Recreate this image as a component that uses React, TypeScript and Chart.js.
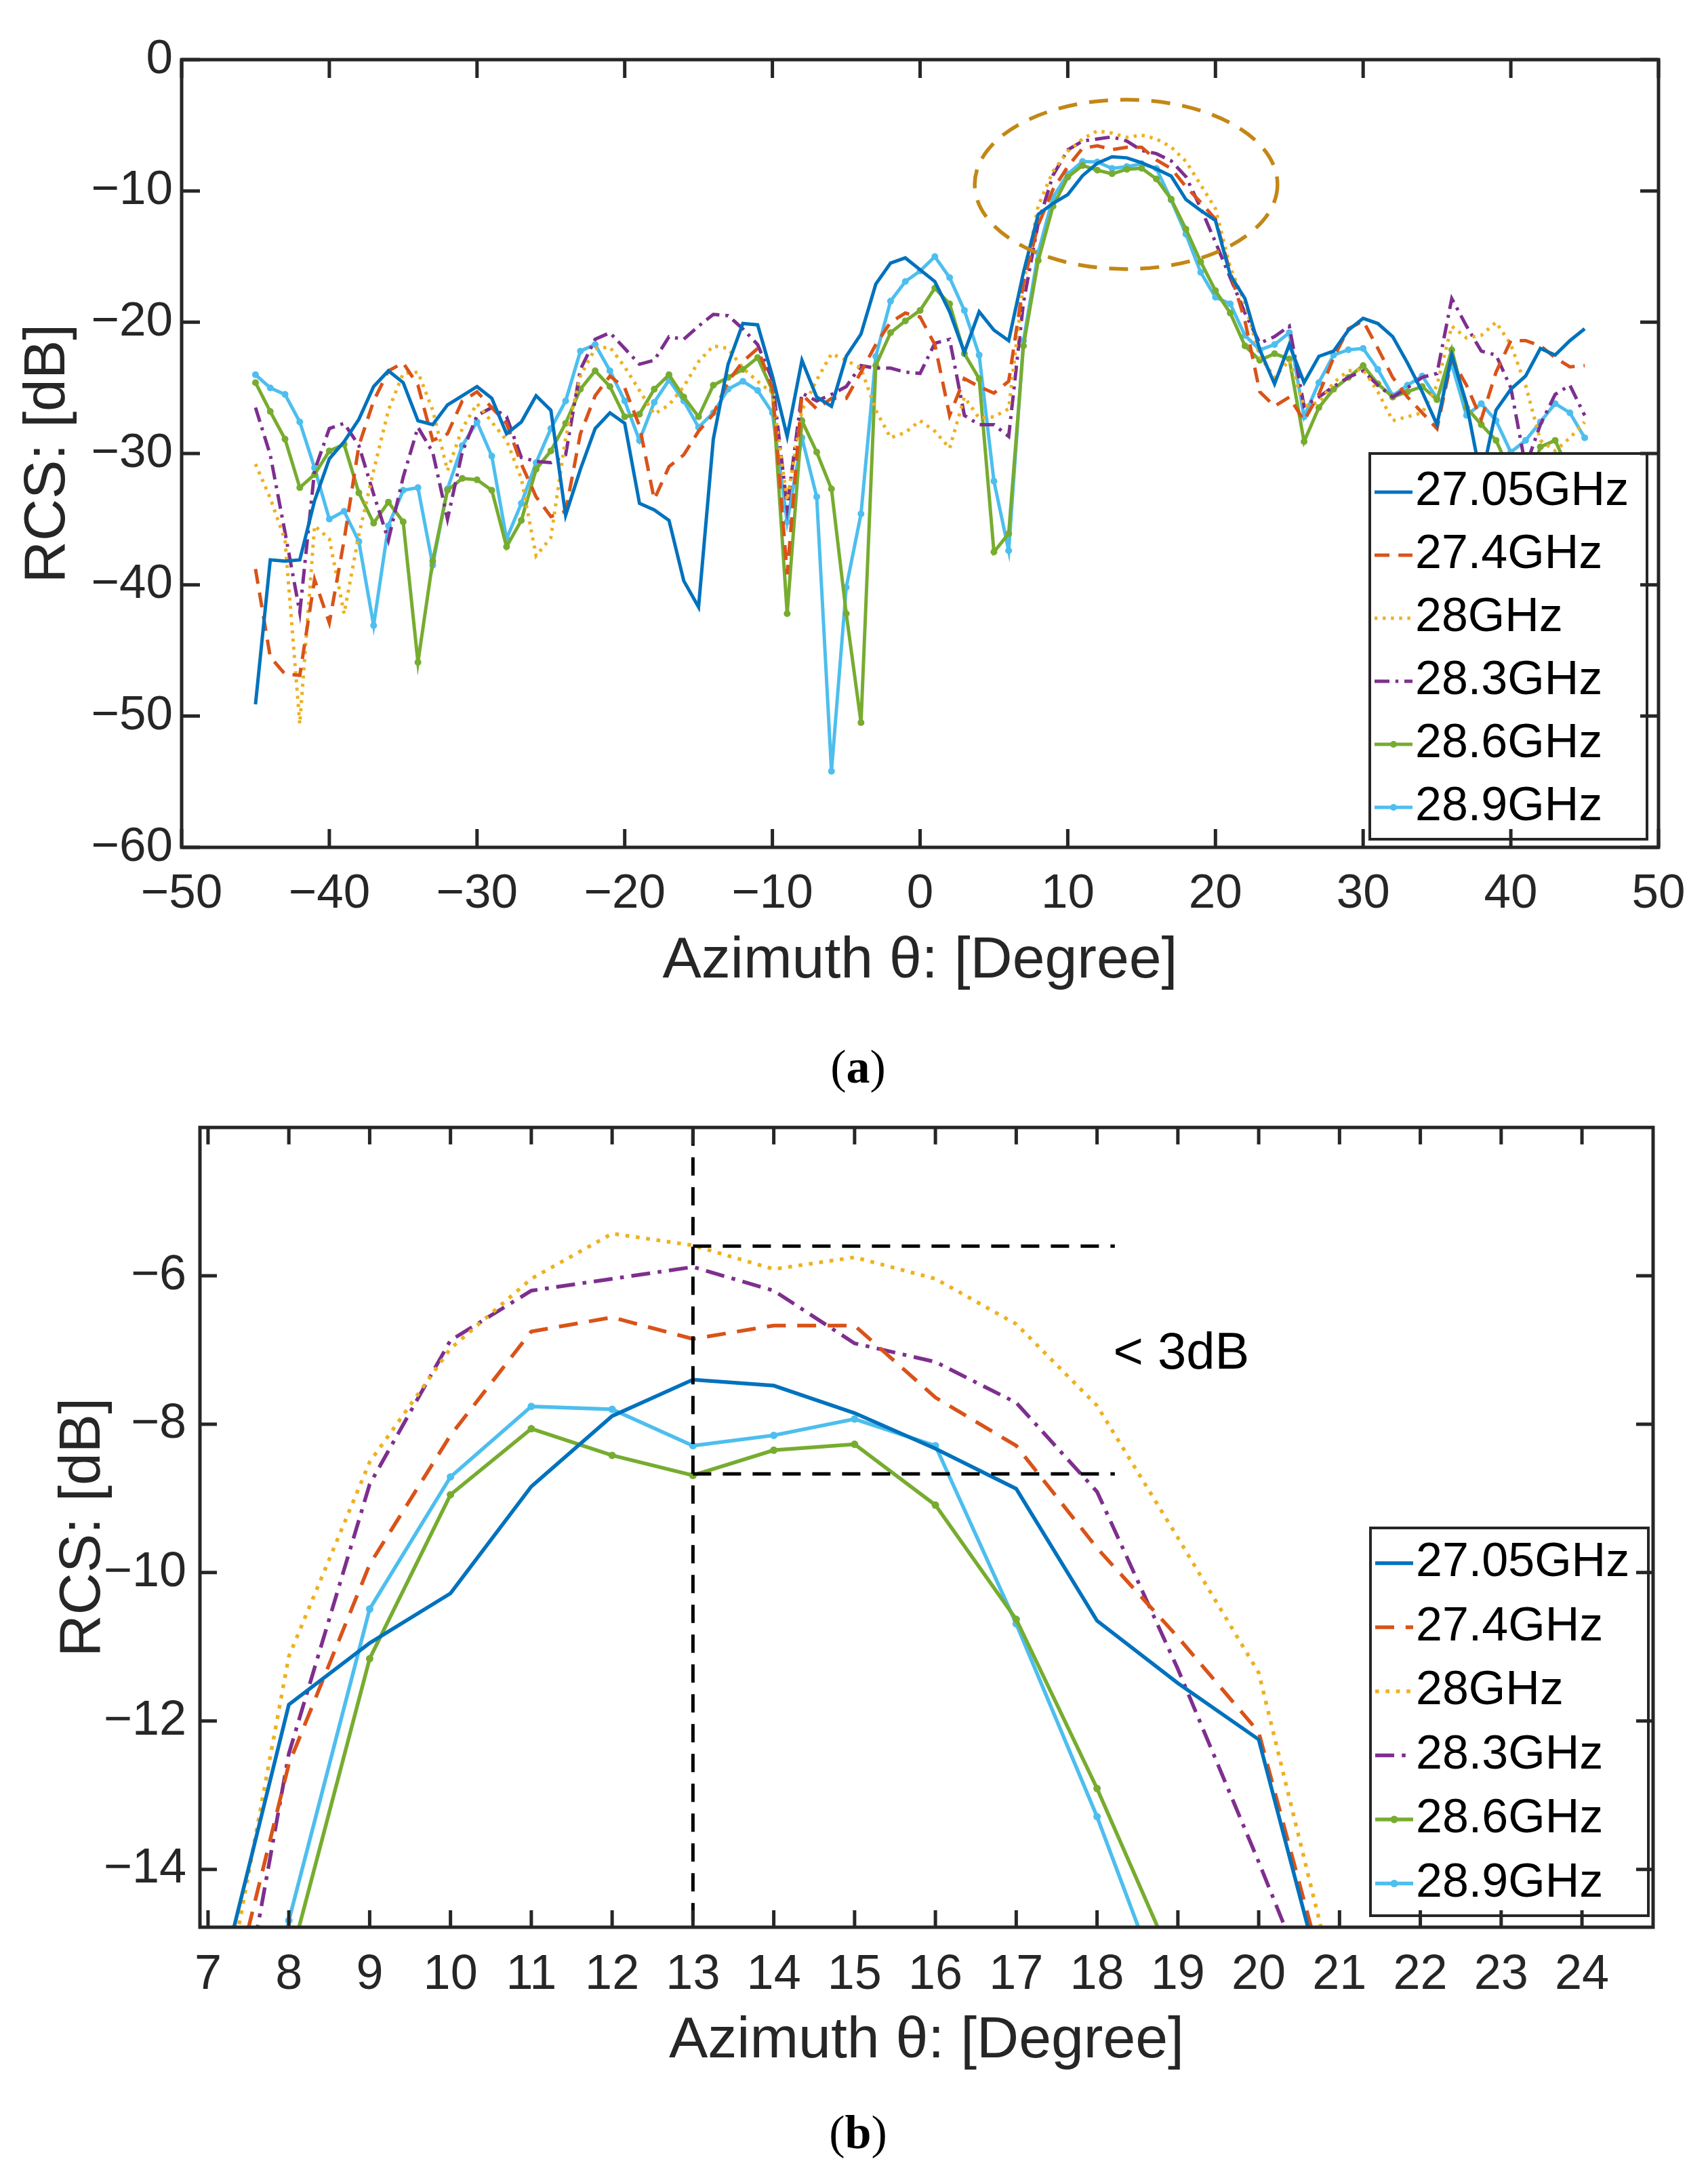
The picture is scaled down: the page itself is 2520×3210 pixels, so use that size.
import React, { useEffect, useRef } from 'react';
import { Chart, registerables } from 'chart.js';

Chart.register(...registerables);

// azimuth samples, 1 degree apart
const ANGLES = [
  -45, -44, -43, -42, -41, -40, -39, -38, -37, -36,
  -35, -34, -33, -32, -31, -30, -29, -28, -27, -26,
  -25, -24, -23, -22, -21, -20, -19, -18, -17, -16,
  -15, -14, -13, -12, -11, -10, -9, -8, -7, -6,
  -5, -4, -3, -2, -1, 0, 1, 2, 3, 4,
  5, 6, 7, 8, 9, 10, 11, 12, 13, 14,
  15, 16, 17, 18, 19, 20, 21, 22, 23, 24,
  25, 26, 27, 28, 29, 30, 31, 32, 33, 34,
  35, 36, 37, 38, 39, 40, 41, 42, 43, 44,
  45,
];

// RCS in dB, one value per angle
const RCS_27_05 = [
  -49.1, -38.1, -38.2, -38.1, -33.6, -30.4, -29.1, -27.4, -24.9, -23.7,
  -24.6, -27.5, -27.8, -26.3, -25.6, -24.9, -25.8, -28.5, -27.6, -25.6,
  -26.7, -34.7, -31.2, -28.1, -26.9, -27.7, -33.8, -34.3, -35.1, -39.7,
  -41.7, -28.9, -23.2, -20.1, -20.2, -24.1, -28.7, -22.9, -25.7, -26.4,
  -22.6, -20.9, -17.1, -15.5, -15.1, -16.0, -16.9, -19.2, -22.3, -19.2,
  -20.6, -21.4, -16.2, -11.78, -10.95, -10.28, -8.84, -7.89, -7.4, -7.48,
  -7.85, -8.33, -8.87, -10.65, -11.49, -12.25, -16.4, -18.2, -22.1, -24.7,
  -21.7, -24.6, -22.6, -22.2, -20.6, -19.7, -20.1, -21.1, -23.1, -25.3,
  -27.8, -22.5, -26.2, -32.0, -26.7, -25.1, -24.1, -22.0, -22.5, -21.4,
  -20.5,
];
const RCS_27_4 = [
  -38.8, -45.5, -46.8, -46.9, -39.6, -42.9, -36.6, -29.4, -26.0, -23.7,
  -23.1, -24.8, -29.0, -28.5, -26.0, -25.3, -26.5, -27.7, -30.8, -33.3,
  -34.8, -34.4, -28.5, -25.6, -24.1, -25.0, -27.9, -33.5, -31.0, -30.1,
  -28.3, -27.0, -24.5, -23.0, -22.0, -25.0, -39.2, -25.5, -26.6, -25.8,
  -25.8, -23.8, -21.7, -20.0, -19.3, -19.6, -21.7, -27.1, -24.3, -24.9,
  -25.4, -24.5, -17.0, -12.58, -9.89, -8.15, -6.75, -6.56, -6.85, -6.67,
  -6.67, -7.64, -8.29, -9.67, -10.87, -12.15, -16.2, -19.9, -25.3, -26.4,
  -25.7, -27.5, -25.5, -22.7, -20.5, -19.9, -22.0, -24.2, -25.7, -26.9,
  -28.1, -22.8, -24.8, -27.4, -23.8, -21.4, -21.4, -21.8, -22.7, -23.4,
  -23.3,
];
const RCS_28 = [
  -30.8, -33.4, -36.6, -50.6, -35.5, -36.5, -42.2, -36.2, -31.3, -26.7,
  -23.9, -23.8, -26.7, -31.3, -28.1, -26.2, -27.6, -29.0, -31.9, -37.8,
  -36.4, -28.8, -24.1, -22.0, -21.9, -23.4, -25.2, -27.0, -26.3, -24.9,
  -23.0, -21.8, -22.0, -23.5, -24.5, -25.4, -33.6, -26.7, -24.4, -22.4,
  -22.9, -23.5, -26.7, -28.8, -28.4, -27.5, -28.3, -29.6, -25.7, -27.3,
  -27.2, -26.6, -17.0, -11.13, -8.51, -6.98, -6.04, -5.43, -5.59, -5.91,
  -5.75, -6.04, -6.65, -7.75, -9.53, -11.35, -15.8, -18.6, -22.6, -24.2,
  -22.9, -26.4, -26.1, -24.6, -23.7, -23.6, -25.3, -27.5, -27.2, -26.9,
  -24.8, -20.3, -21.2, -21.0, -20.0, -21.7, -24.8, -29.0, -29.8, -28.8,
  -27.6,
];
const RCS_28_3 = [
  -26.5, -30.1, -36.0, -42.1, -31.3, -28.1, -27.7, -29.4, -33.1, -36.6,
  -31.8, -28.0, -29.9, -35.0, -29.9, -27.1, -26.5, -27.2, -30.3, -30.6,
  -30.7, -30.1, -23.6, -21.3, -20.8, -22.0, -23.2, -22.9, -21.1, -21.3,
  -20.3, -19.4, -19.5, -20.5, -21.7, -24.4, -34.1, -25.4, -26.0, -25.5,
  -24.9, -23.3, -23.5, -23.5, -23.8, -23.9, -21.6, -21.3, -27.1, -27.8,
  -27.8, -28.7, -18.5, -12.44, -8.81, -6.87, -6.2, -6.04, -5.88, -6.2,
  -6.91, -7.16, -7.71, -8.91, -11.3, -13.9, -16.6, -19.3, -21.6, -21.1,
  -20.3, -26.4, -25.7, -24.9, -24.2, -23.7, -24.8, -25.7, -25.0, -24.2,
  -23.9, -18.2, -20.3, -22.2, -22.5, -25.0, -31.0, -27.8, -25.5, -24.8,
  -27.1,
];
const RCS_28_6 = [
  -24.6, -26.8, -28.9, -32.6, -31.6, -29.8, -29.3, -33.0, -35.3, -33.7,
  -35.2, -45.9, -38.2, -32.8, -31.9, -32.0, -32.8, -37.1, -35.1, -31.2,
  -29.8, -27.7, -25.1, -23.7, -24.9, -27.2, -27.0, -25.1, -24.0, -25.7,
  -27.2, -24.8, -24.2, -23.6, -22.7, -25.2, -42.2, -27.5, -29.9, -32.7,
  -42.2, -50.5, -23.3, -20.8, -19.9, -19.1, -17.4, -18.6, -22.4, -24.3,
  -37.5, -36.1, -21.8, -15.3, -11.16, -8.95, -8.06, -8.42, -8.69, -8.35,
  -8.27, -9.09, -10.63, -12.91, -15.4, -17.6, -19.3, -21.8, -22.9, -22.4,
  -22.8, -29.1, -26.5, -25.1, -24.2, -23.3, -24.7, -25.7, -25.3, -24.9,
  -25.9, -22.1, -26.5, -27.8, -29.0, -31.5, -33.0, -29.5, -29.0, -31.5,
  -34.0,
];
const RCS_28_9 = [
  -24.0, -25.0, -25.5, -27.6, -31.1, -35.0, -34.4, -36.7, -43.1, -35.5,
  -32.8, -32.6, -38.5, -32.7, -29.4, -27.6, -30.2, -36.5, -33.8, -30.7,
  -28.1, -26.0, -22.2, -21.7, -23.7, -26.0, -29.0, -26.1, -24.4, -26.0,
  -28.0, -26.9, -25.1, -24.5, -25.2, -26.9, -35.2, -28.8, -33.3, -54.2,
  -40.2, -34.6, -22.6, -18.4, -16.9, -16.1, -15.0, -16.6, -19.1, -22.5,
  -32.1, -37.4, -21.4, -14.69, -10.49, -8.71, -7.76, -7.8, -8.29, -8.15,
  -7.93, -8.29, -10.69, -13.29, -16.2, -18.1, -18.6, -21.0, -22.1, -21.7,
  -20.8, -27.2, -24.6, -22.5, -22.1, -22.0, -23.6, -25.6, -24.8, -24.1,
  -25.8, -23.2, -27.1, -26.2, -27.5, -29.9, -29.0, -27.6, -26.2, -26.9,
  -28.8,
];

const SERIES = [RCS_27_05, RCS_27_4, RCS_28, RCS_28_3, RCS_28_6, RCS_28_9];
const SERIES_LABELS = ['27.05GHz', '27.4GHz', '28GHz', '28.3GHz', '28.6GHz', '28.9GHz'];

const TOP_X_TICKS = [-50, -40, -30, -20, -10, 0, 10, 20, 30, 40, 50];
const TOP_Y_TICKS = [-60, -50, -40, -30, -20, -10, 0];
const ZOOM_X_TICKS = [7, 8, 9, 10, 11, 12, 13, 14, 15, 16, 17, 18, 19, 20, 21, 22, 23, 24];
const ZOOM_Y_TICKS = [-14, -12, -10, -8, -6];

// line styles (matlab default order)
const COLORS = ['#0072BD', '#D95319', '#EDB120', '#7E2F8E', '#77AC30', '#4DBEEE'];
const DASHES: number[][] = [[], [20, 12], [4, 7], [20, 8, 4, 8], [], []];
const MARKED = [false, false, false, false, true, true];

const INK = '#262626';
const SANS = '"Liberation Sans", Arial, Helvetica, sans-serif';

const minus = (v: number | string) => String(v).replace('-', '\u2212');

// box around the axes with inward ticks on all four sides
const frameTicks = {
  id: 'frameTicks',
  afterDraw(chart: any, _args: any, o: any) {
    const { ctx, chartArea: a, scales } = chart;
    ctx.save();
    ctx.strokeStyle = INK;
    ctx.lineWidth = o.lineWidth;
    ctx.setLineDash([]);
    ctx.beginPath();
    scales.x.ticks.forEach((t: any) => {
      const px = scales.x.getPixelForValue(t.value);
      ctx.moveTo(px, a.bottom);
      ctx.lineTo(px, a.bottom - o.tickLength);
      ctx.moveTo(px, a.top);
      ctx.lineTo(px, a.top + o.tickLength);
    });
    scales.y.ticks.forEach((t: any) => {
      const py = scales.y.getPixelForValue(t.value);
      ctx.moveTo(a.left, py);
      ctx.lineTo(a.left + o.tickLength, py);
      ctx.moveTo(a.right, py);
      ctx.lineTo(a.right - o.tickLength, py);
    });
    ctx.stroke();
    ctx.strokeRect(a.left, a.top, a.right - a.left, a.bottom - a.top);
    ctx.restore();
  },
};

// legend box in the lower right corner of the axes
const boxLegend = {
  id: 'boxLegend',
  afterDraw(chart: any, _args: any, o: any) {
    const { ctx, chartArea: a } = chart;
    const right = a.right - o.insetRight;
    const bottom = a.bottom - o.insetBottom;
    const left = right - o.width;
    const top = bottom - o.height;
    ctx.save();
    ctx.fillStyle = '#ffffff';
    ctx.fillRect(left, top, o.width, o.height);
    ctx.strokeStyle = INK;
    ctx.lineWidth = 4;
    ctx.setLineDash([]);
    ctx.strokeRect(left, top, o.width, o.height);
    chart.data.datasets.forEach((ds: any, i: number) => {
      const y = top + o.firstRow + i * o.rowHeight;
      ctx.strokeStyle = ds.borderColor;
      ctx.lineWidth = ds.borderWidth;
      ctx.setLineDash(ds.borderDash || []);
      ctx.beginPath();
      ctx.moveTo(left + 7, y);
      ctx.lineTo(left + 63, y);
      ctx.stroke();
      ctx.setLineDash([]);
      if (ds.pointRadius > 0) {
        ctx.fillStyle = ds.borderColor;
        ctx.beginPath();
        ctx.arc(left + 35, y, ds.pointRadius, 0, Math.PI * 2);
        ctx.fill();
      }
      ctx.fillStyle = '#000000';
      ctx.font = `${o.fontSize}px ${SANS}`;
      ctx.textBaseline = 'middle';
      ctx.textAlign = 'left';
      ctx.fillText(ds.label, left + 67, y);
    });
    ctx.restore();
  },
};

// dashed ellipse around the main lobe
const lobeEllipse = {
  id: 'lobeEllipse',
  afterDatasetsDraw(chart: any, _args: any, o: any) {
    const { ctx, scales: { x, y } } = chart;
    const cx = x.getPixelForValue(o.center[0]);
    const cy = y.getPixelForValue(o.center[1]);
    const rx = Math.abs(x.getPixelForValue(o.center[0] + o.radius[0]) - cx);
    const ry = Math.abs(y.getPixelForValue(o.center[1] + o.radius[1]) - cy);
    ctx.save();
    ctx.strokeStyle = o.color;
    ctx.lineWidth = 5.5;
    ctx.setLineDash([28, 18]);
    ctx.beginPath();
    ctx.ellipse(cx, cy, rx, ry, 0, 0, Math.PI * 2);
    ctx.stroke();
    ctx.restore();
  },
};

// 3 dB guide lines in the zoomed panel
const guides = {
  id: 'guides',
  afterDatasetsDraw(chart: any, _args: any, o: any) {
    const { ctx, chartArea: a, scales: { x, y } } = chart;
    const vx = x.getPixelForValue(o.vertical);
    const ex = x.getPixelForValue(o.levelEnd);
    ctx.save();
    ctx.strokeStyle = '#000000';
    ctx.lineWidth = 5;
    ctx.setLineDash([27, 17]);
    ctx.beginPath();
    ctx.moveTo(vx, a.top);
    ctx.lineTo(vx, a.bottom);
    o.levels.forEach((lv: number) => {
      const py = y.getPixelForValue(lv);
      ctx.moveTo(vx, py);
      ctx.lineTo(ex, py);
    });
    ctx.stroke();
    ctx.setLineDash([]);
    ctx.fillStyle = '#000000';
    ctx.font = `76px ${SANS}`;
    ctx.textBaseline = 'middle';
    ctx.textAlign = 'left';
    ctx.fillText(o.text, x.getPixelForValue(o.textAt[0]), y.getPixelForValue(o.textAt[1]));
    ctx.restore();
  },
};

interface PanelSpec {
  height: number;
  area: { left: number; top: number; right: number; bottom: number };
  axisBottom: number;
  xRange: [number, number];
  yRange: [number, number];
  xTicks: number[];
  yTicks: number[];
  tickFont: number;
  titleFont: number;
  xTickPad: number;
  yTickPad: number;
  yTitlePad: number;
  lineWidth: number;
  dashScale: number;
  markerRadius: number;
  tickLength: number;
  legend: any;
  extra: any[];
  extraOptions: any;
}

const PANEL_A: PanelSpec = {
  height: 1500,
  area: { left: 268, top: 88, right: 2447, bottom: 1250 },
  axisBottom: 1470,
  xRange: [-50, 50],
  yRange: [-60, 0],
  xTicks: TOP_X_TICKS,
  yTicks: TOP_Y_TICKS,
  tickFont: 71,
  titleFont: 86,
  xTickPad: 27,
  yTickPad: 13,
  yTitlePad: 20,
  lineWidth: 5,
  dashScale: 1.1,
  markerRadius: 5,
  tickLength: 27,
  legend: { insetRight: 17, insetBottom: 12, width: 409, height: 569, firstRow: 57, rowHeight: 93, fontSize: 70 },
  extra: [lobeEllipse],
  extraOptions: { lobeEllipse: { center: [13.95, -9.5], radius: [10.25, 6.45], color: '#C38716' } },
};

const PANEL_B: PanelSpec = {
  height: 1500,
  area: { left: 295, top: 56, right: 2439, bottom: 1243 },
  axisBottom: 1463,
  xRange: [6.9, 24.88],
  yRange: [-14.78, -4.0],
  xTicks: ZOOM_X_TICKS,
  yTicks: ZOOM_Y_TICKS,
  tickFont: 72,
  titleFont: 86,
  xTickPad: 28,
  yTickPad: 20,
  yTitlePad: 72,
  lineWidth: 5.5,
  dashScale: 1.4,
  markerRadius: 5.5,
  tickLength: 25,
  legend: { insetRight: 7, insetBottom: 17, width: 410, height: 572, firstRow: 52, rowHeight: 94.5, fontSize: 70 },
  extra: [guides],
  extraOptions: {
    guides: { vertical: 13, levelEnd: 18.22, levels: [-5.6, -8.67], text: '< 3dB', textAt: [18.2, -7.06] },
  },
};

function buildConfig(p: PanelSpec): any {
  const datasets = SERIES.map((vals, i) => ({
    label: SERIES_LABELS[i],
    data: ANGLES.map((a, j) => ({ x: a, y: vals[j] })),
    borderColor: COLORS[i],
    backgroundColor: COLORS[i],
    borderWidth: p.lineWidth,
    borderDash: DASHES[i].map((d) => d * p.dashScale),
    pointRadius: MARKED[i] ? p.markerRadius : 0,
    pointBorderWidth: 0,
    pointBackgroundColor: COLORS[i],
    tension: 0,
    fill: false,
    clip: 0,
  }));

  return {
    type: 'line',
    data: { datasets },
    plugins: [...p.extra, boxLegend, frameTicks],
    options: {
      responsive: false,
      animation: false,
      devicePixelRatio: 1,
      layout: {
        padding: { left: 0, top: p.area.top, right: 2520 - p.area.right, bottom: p.height - p.axisBottom },
      },
      plugins: {
        legend: { display: false },
        tooltip: { enabled: false },
        frameTicks: { lineWidth: 5, tickLength: p.tickLength },
        boxLegend: p.legend,
        ...p.extraOptions,
      },
      scales: {
        x: {
          type: 'linear',
          min: p.xRange[0],
          max: p.xRange[1],
          afterBuildTicks: (ax: any) => {
            ax.ticks = p.xTicks.map((v) => ({ value: v }));
          },
          afterFit: (s: any) => {
            s.height = p.axisBottom - p.area.bottom;
          },
          grid: { display: false, drawTicks: false },
          border: { display: false },
          ticks: {
            autoSkip: false,
            maxRotation: 0,
            padding: p.xTickPad,
            color: INK,
            font: { family: SANS, size: p.tickFont },
            callback: (v: any) => minus(v),
          },
          title: {
            display: true,
            text: 'Azimuth \u03b8: [Degree]',
            color: INK,
            font: { family: SANS, size: p.titleFont },
            padding: { top: 0, bottom: 0 },
          },
        },
        y: {
          type: 'linear',
          min: p.yRange[0],
          max: p.yRange[1],
          afterBuildTicks: (ax: any) => {
            ax.ticks = p.yTicks.map((v) => ({ value: v }));
          },
          afterFit: (s: any) => {
            s.width = p.area.left;
          },
          grid: { display: false, drawTicks: false },
          border: { display: false },
          ticks: {
            autoSkip: false,
            padding: p.yTickPad,
            color: INK,
            font: { family: SANS, size: p.tickFont },
            callback: (v: any) => minus(v),
          },
          title: {
            display: true,
            text: 'RCS: [dB]',
            color: INK,
            font: { family: SANS, size: p.titleFont },
            padding: { top: p.yTitlePad, bottom: 0 },
          },
        },
      },
    },
  };
}

const RcsPanel: React.FC<{ spec: PanelSpec; top: number }> = ({ spec, top }) => {
  const canvasRef = useRef<HTMLCanvasElement | null>(null);

  useEffect(() => {
    const ctx = canvasRef.current?.getContext('2d');
    if (!ctx) {
      return;
    }
    const chart = new Chart(ctx, buildConfig(spec));
    return () => {
      chart.destroy();
    };
  }, [spec]);

  return (
    <canvas
      ref={canvasRef}
      width={2520}
      height={spec.height}
      style={{ position: 'absolute', left: 0, top, display: 'block' }}
    />
  );
};

const Caption: React.FC<{ letter: string; top: number }> = ({ letter, top }) => (
  <div
    style={{
      position: 'absolute',
      left: 6,
      top,
      width: 2520,
      textAlign: 'center',
      fontFamily: '"Liberation Serif", "Times New Roman", serif',
      fontSize: 70,
      lineHeight: '80px',
      color: '#000',
    }}
  >
    (<b>{letter}</b>)
  </div>
);

const App: React.FC = () => (
  <div
    style={{
      position: 'absolute',
      left: 0,
      top: 0,
      width: 2520,
      height: 3210,
      background: '#ffffff',
      overflow: 'hidden',
    }}
  >
    <RcsPanel spec={PANEL_A} top={0} />
    <Caption letter="a" top={1534} />
    <RcsPanel spec={PANEL_B} top={1600} />
    <Caption letter="b" top={3106} />
  </div>
);

export default App;
